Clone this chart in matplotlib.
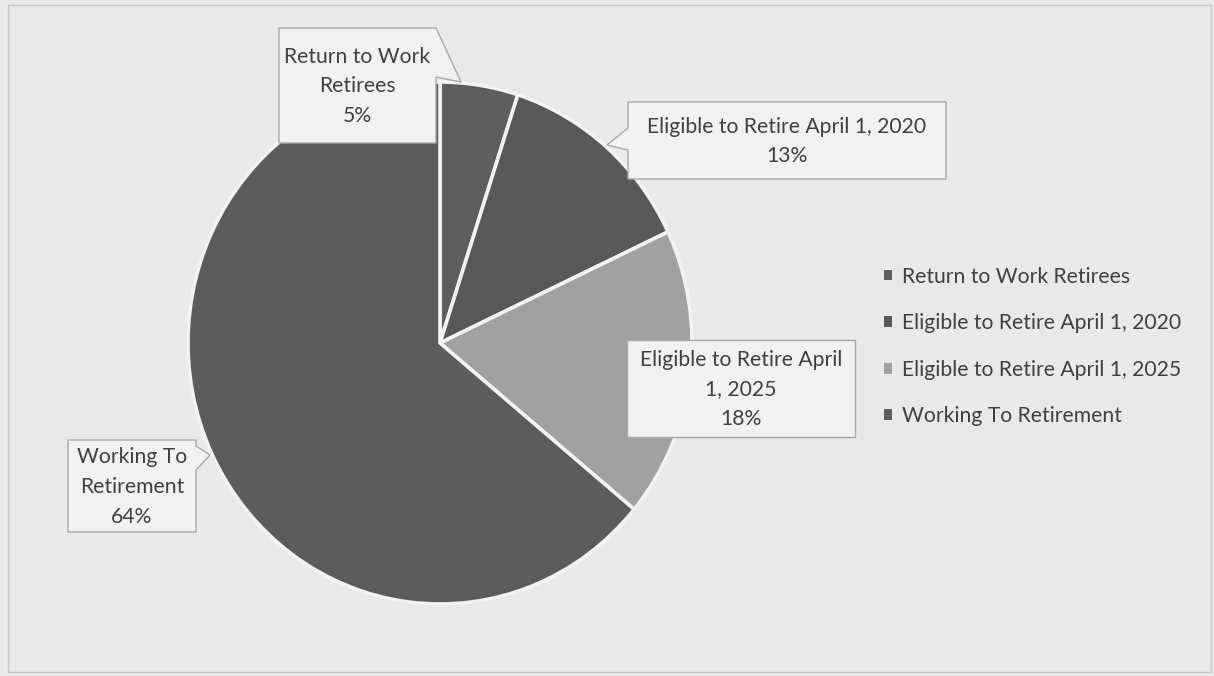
import matplotlib
matplotlib.use("Agg")
import matplotlib.pyplot as plt
from matplotlib.patches import Rectangle, Polygon

plt.rcParams['font.family'] = ['Lato', 'DejaVu Sans']

categories = [
    "Return to Work Retirees",
    "Eligible to Retire April 1, 2020",
    "Eligible to Retire April 1, 2025",
    "Working To Retirement",
]
shares = [5, 13, 18, 64]
callout_texts = [
    "Return to Work\nRetirees\n5%",
    "Eligible to Retire April 1, 2020\n13%",
    "Eligible to Retire April\n1, 2025\n18%",
    "Working To\nRetirement\n64%",
]
slice_colors = ["#5e5e5e", "#585858", "#a1a1a1", "#5c5c5c"]

W, H = 1214, 676
BG = "#e9e9e9"
SEP = "#f2f2f2"
BOX_FC = "#f1f1f1"
BOX_EC = "#a8a8a8"
TEXT_C = "#404040"
FS = 15.2

fig = plt.figure(figsize=(W / 100, H / 100), dpi=100, facecolor=BG)


def fp(x, y):
    """pixel position (top-left origin) -> figure fraction"""
    return (x / W, 1 - y / H)


# outer chart frame
fig.patches.append(Rectangle(fp(8, 672), (W - 11) / W, 667 / H,
                             transform=fig.transFigure, fill=False,
                             ec="#c8c8c8", lw=1.0))

# pie axes: centre (440, 343) px, radii 252 x 261 px
cx, cy, rx, ry = 440, 343, 252, 261
ax = fig.add_axes([(cx - rx) / W, (H - cy - ry) / H, 2 * rx / W, 2 * ry / H])
wedges, _ = ax.pie(shares, colors=slice_colors, startangle=90, counterclock=False,
                   wedgeprops=dict(edgecolor=SEP, linewidth=2.6))
ax.set_aspect("auto")
ax.set_xlim(-1.0, 1.0)
ax.set_ylim(-1.0, 1.0)
ax.axis("off")

# callout boxes (left, top, right, bottom) and pointer (edge, base a, base b, tip)
boxes = [(279, 28, 436, 143), (628, 102, 946, 179),
         (627, 340, 855, 437), (68, 440, 196, 532)]
pointers = [("right", 28, 77, (461, 82)),
            ("left", 128, 150, (607, 145)),
            None,
            ("right", 446, 470, (210, 455))]

for txt, (l, t, r, b), ptr in zip(callout_texts, boxes, pointers):
    if ptr is None:
        verts = [(l, t), (r, t), (r, b), (l, b)]
    elif ptr[0] == "right":
        _, a, c, tip = ptr
        verts = [(l, t), (r, t), (r, a), tip, (r, c), (r, b), (l, b)]
    else:
        _, a, c, tip = ptr
        verts = [(l, t), (r, t), (r, b), (l, b), (l, c), tip, (l, a)]
    fig.patches.append(Polygon([fp(x, y) for x, y in verts], closed=True,
                               transform=fig.transFigure, fc=BOX_FC,
                               ec=BOX_EC, lw=1.0, zorder=4))
    fig.text(*fp((l + r) / 2, (t + b) / 2 + 1), txt, ha="center", va="center",
             fontsize=FS, color=TEXT_C, linespacing=1.6, zorder=5)

leg = fig.legend(wedges, categories, loc="upper left",
                 bbox_to_anchor=(873 / W, 1 - 256 / H), frameon=False,
                 fontsize=FS, handlelength=0.42, handleheight=0.42,
                 handletextpad=0.45, labelspacing=1.26, borderpad=0)
for t in leg.get_texts():
    t.set_color(TEXT_C)
for h in leg.legend_handles:
    h.set_edgecolor("none")

fig.savefig("out.png", dpi=100, facecolor=BG)
